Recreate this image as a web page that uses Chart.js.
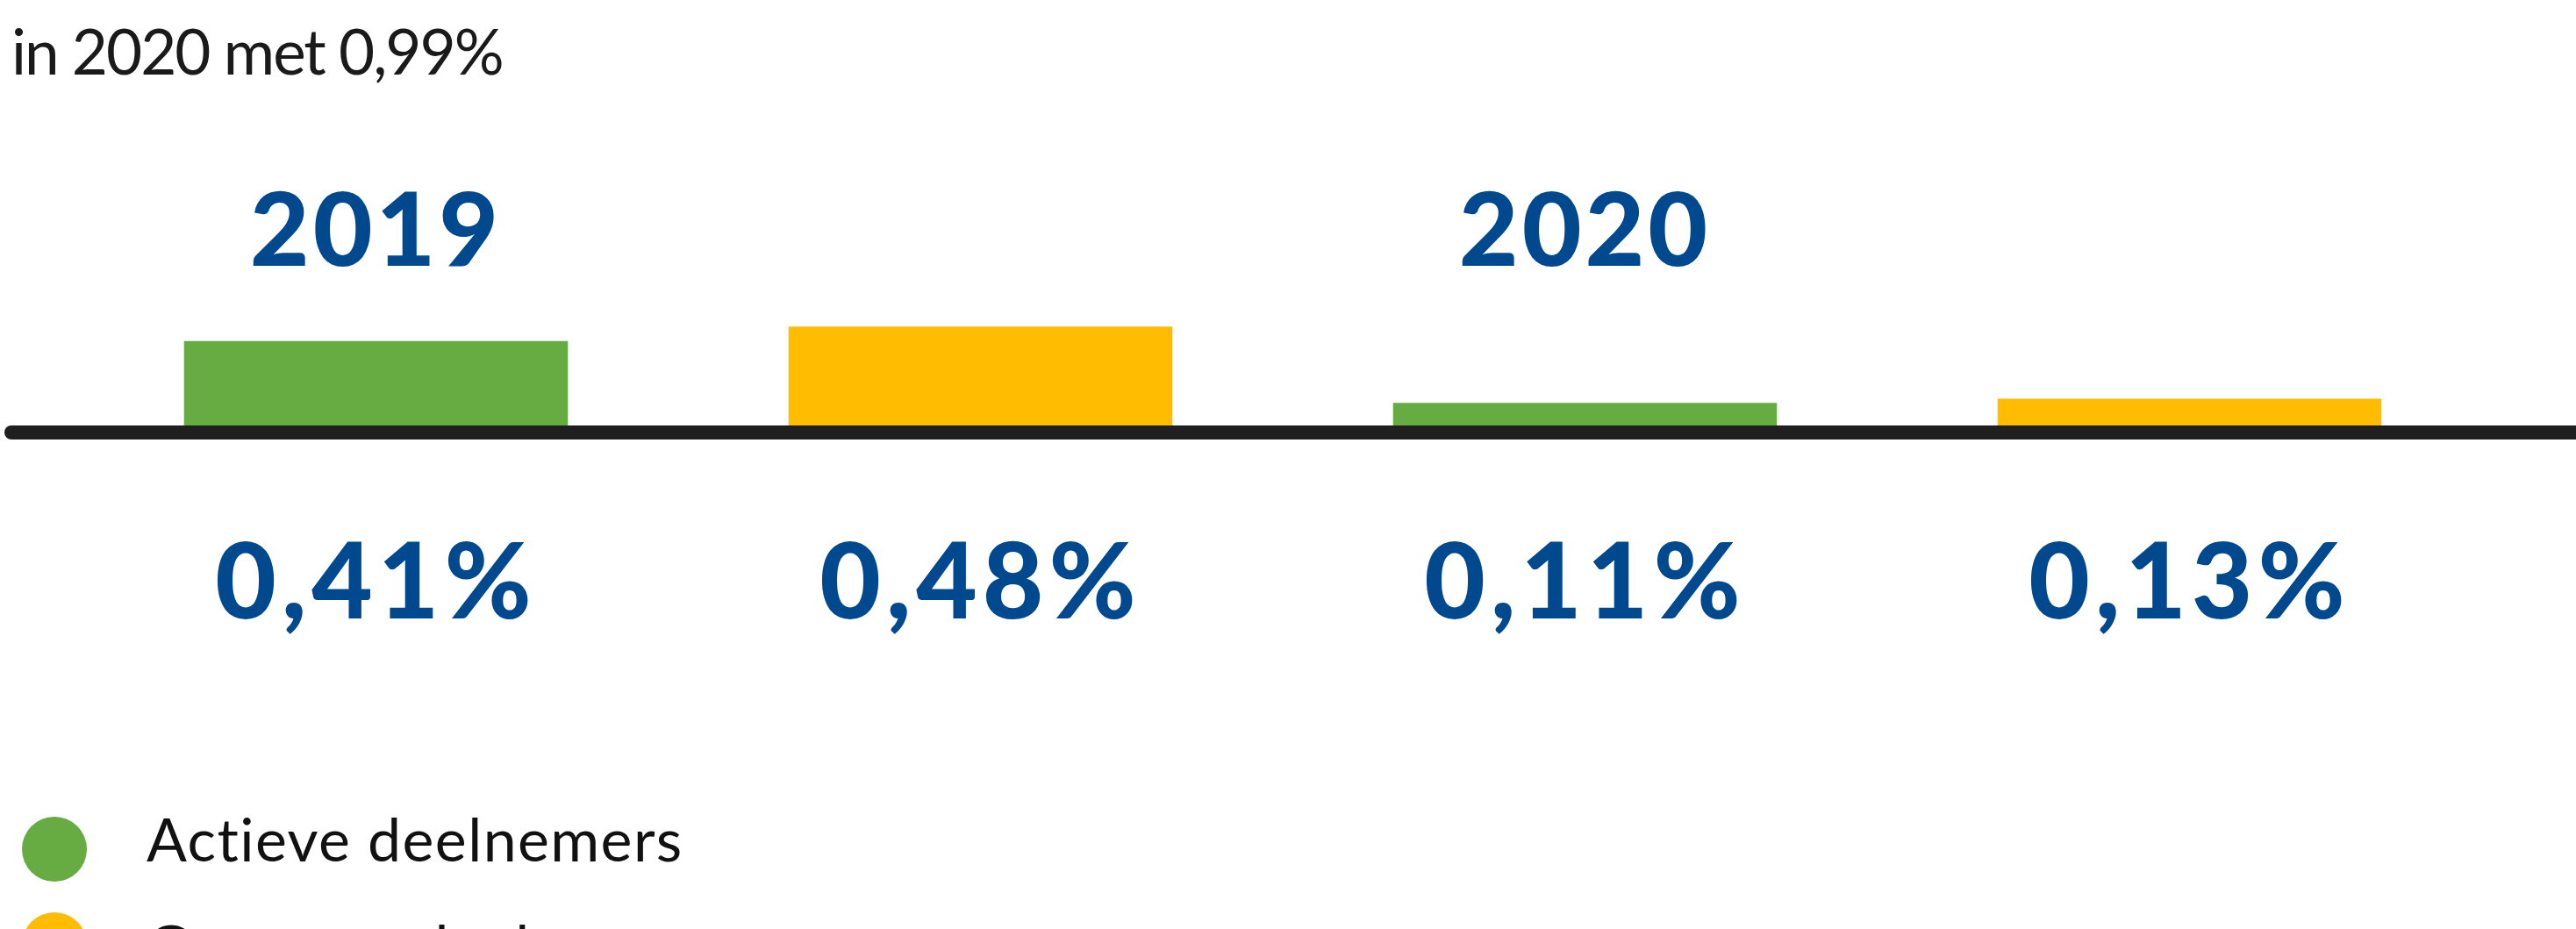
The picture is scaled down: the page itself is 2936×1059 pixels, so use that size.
<!DOCTYPE html>
<html>
<head>
<meta charset="utf-8">
<script src="https://cdn.jsdelivr.net/npm/chart.js@4/dist/chart.umd.min.js"></script>
<style>
  html, body { margin: 0; padding: 0; background: #fff; }
  #wrap { position: relative; width: 2936px; height: 1059px; overflow: hidden; }
</style>
</head>
<body>
<div id="wrap"><canvas id="chart" width="2936" height="1059"></canvas></div>
<script>
// data
const years = ["2019", "2020"];
const seriesNames = ["Actieve deelnemers", "Gewezen deelnemers"];
const actieve = [0.41, 0.11];
const gewezen = [0.48, 0.13];
const subtitle = "in 2020 met 0,99%";

const GREEN = "#66ac42";
const YELLOW = "#ffbc00";
const BLUE = "#00498f";

const fmt = v => v.toFixed(2).replace(".", ",") + "%";

// labels, axis line, subtitle and legend drawn on the canvas
const decor = {
  id: "decor",
  afterDatasetsDraw(chart) {
    const ctx = chart.ctx;
    const y0 = chart.scales.y.getPixelForValue(0);
    ctx.save();

    // base line
    ctx.strokeStyle = "#1f1f1f";
    ctx.lineWidth = 16;
    ctx.lineCap = "round";
    ctx.beginPath();
    ctx.moveTo(13, y0 + 8);
    ctx.lineTo(chart.width + 20, y0 + 8);
    ctx.stroke();

    // year labels above first bar of each group
    ctx.fillStyle = BLUE;
    ctx.textAlign = "center";
    ctx.textBaseline = "alphabetic";
    ctx.font = "900 117px Lato";
    ctx.letterSpacing = "4px";
    const first = chart.getDatasetMeta(0);
    first.data.forEach((bar, i) => {
      ctx.fillText(years[i], bar.x, y0 - 182);
    });

    // value labels under each bar
    ctx.font = "900 120px Lato";
    ctx.letterSpacing = "6px";
    chart.data.datasets.forEach((ds, d) => {
      chart.getDatasetMeta(d).data.forEach((bar, i) => {
        ctx.fillText(fmt(ds.data[i]), bar.x, y0 + 220);
      });
    });

    // subtitle
    ctx.textAlign = "left";
    ctx.fillStyle = "#1a1a1a";
    ctx.font = "400 71px Lato";
    ctx.letterSpacing = "-2px";
    ctx.fillText(subtitle, 13, 85);

    // legend
    ctx.font = "400 68px Lato";
    ctx.letterSpacing = "1.4px";
    chart.data.datasets.forEach((ds, d) => {
      const cy = 968 + d * 109;
      ctx.fillStyle = ds.backgroundColor;
      ctx.beginPath();
      ctx.arc(62, cy, 37, 0, Math.PI * 2);
      ctx.fill();
      ctx.fillStyle = "#111";
      ctx.fillText(ds.label, 167, 982 + d * 122);
    });

    ctx.restore();
  }
};

new Chart(document.getElementById("chart"), {
  type: "bar",
  data: {
    labels: years,
    datasets: [
      { label: seriesNames[0], data: actieve, backgroundColor: GREEN },
      { label: seriesNames[1], data: gewezen, backgroundColor: YELLOW }
    ]
  },
  options: {
    responsive: false,
    devicePixelRatio: 1,
    animation: false,
    categoryPercentage: 1.0,
    barPercentage: 0.635,
    layout: { padding: { left: 84, right: 96, top: 250, bottom: 574 } },
    scales: {
      x: { display: false },
      y: { display: false, min: 0, max: 1.0 }
    },
    plugins: {
      legend: { display: false },
      tooltip: { enabled: false }
    }
  },
  plugins: [decor]
});
</script>
</body>
</html>
